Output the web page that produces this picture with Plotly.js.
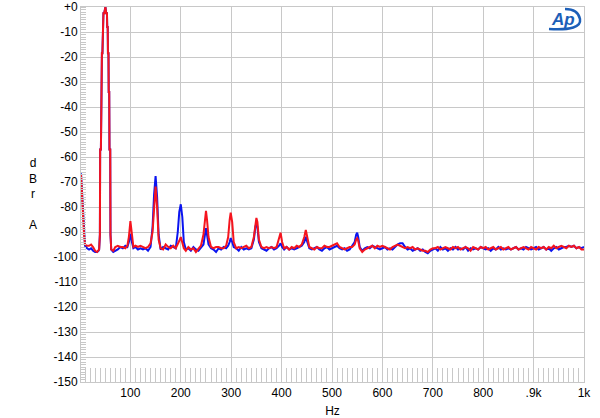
<!DOCTYPE html>
<html>
<head>
<meta charset="utf-8">
<script src="https://cdn.plot.ly/plotly-3.0.1.min.js"></script>
<style>html,body{margin:0;padding:0;background:#fff;}#chart{width:600px;height:418px;}</style>
</head>
<body>
<div id="chart"></div>
<script>
// Frequency (Hz)
const freq = [2,4,6,8,10,14,18,22,26,30,34,37,
  38,39.5,40,41.5,42,43,43.5,44.5,45,46,46.5,48,49.5,50.5,52,53.5,54,55,55.5,56.5,57,58,58.5,60,60.5,62,
  66,70,75,80,85,90,94,97,100,103,106,110,115,120,125,130,135,140,144,147,150,153,156,160,165,170,175,180,185,190,194,197,200,203,206,210,215,220,225,230,235,240,245,248,250,252,255,260,265,270,275,280,285,290,294,297,299,302,305,310,315,320,325,330,335,340,345,348,350,352,355,360,365,370,375,380,385,390,395,398,401,405,410,415,420,425,430,435,440,445,448,451,455,460,465,470,475,480,485,490,495,500,505,510,515,520,525,530,535,540,545,548,550,552,555,560,565,570,575,580,585,590,595,600,605,610,615,620,625,630,635,640,645,650,655,660,665,670,675,680,685,690,695,700,705,710,715,720,725,730,735,740,745,750,755,760,765,770,775,780,785,790,795,800,805,810,815,820,825,830,835,840,845,850,855,860,865,870,875,880,885,890,895,900,905,910,915,920,925,930,935,940,945,950,955,960,965,970,975,980,985,990,995,1000];
// Blue channel (dBr A)
const blue = [-66.5,-74,-84,-92,-95.5,-96.5,-97,-96.5,-97.5,-98,-98,-97.5,
  -97,-91,-57,-57,-34,-34,-18.5,-18.5,-8,-8,-2.5,-2.5,0,0,-2.5,-2.5,-8,-8,-18.5,-18.5,-34,-34,-57,-57,-91,-97,
  -98,-97.5,-97,-96,-96.5,-95.5,-96,-94,-90.8,-94,-96.5,-96,-97,-96.5,-97,-96.5,-97.5,-96,-88,-75,-67.6,-76,-91,-97,-96,-96.5,-97,-95.5,-96,-96.5,-90,-82,-78.9,-84,-94,-97,-96.5,-97.5,-96,-97,-97.5,-96,-95,-91,-88.5,-91,-95,-96.5,-97,-98,-96.5,-97,-96,-96.5,-95.5,-94,-92.4,-94,-96,-96.5,-97.5,-96,-97,-96.5,-97,-96.5,-93,-88,-86.4,-88,-94,-96.5,-97,-97.5,-96.5,-96,-97,-96.5,-95.5,-94.5,-96,-97,-96,-97,-96.5,-97,-96.5,-96,-95.5,-94,-91.9,-94,-96.5,-97,-96.5,-96,-97,-97.5,-96.5,-96,-97,-96.5,-96,-95.5,-96.5,-97,-96.5,-97.5,-97,-95.5,-94,-91,-90.3,-92,-96,-97.5,-96.5,-96,-96.5,-95.5,-96,-96.5,-97,-96.5,-96,-97,-96.5,-97,-96,-95,-94.5,-94.5,-96,-97,-96.5,-97.5,-97,-96.5,-97.5,-97,-98,-98.5,-97.5,-97,-96.5,-97.5,-96,-97,-96.5,-97.5,-96.5,-97,-96,-97,-96.5,-97,-96,-97.5,-96.5,-97,-96.5,-97,-96,-96.5,-97,-96.5,-97.5,-96.5,-97,-96,-97,-96.5,-97,-96.5,-97,-96.5,-96,-97,-96.5,-97,-96,-96.5,-97,-96.5,-96,-97,-96.5,-96,-97,-96.5,-97.5,-96.5,-96,-97,-96.5,-96,-96,-95.5,-96,-95.5,-96.5,-96,-96.5,-96];
// Red channel (dBr A)
const red = [-67,-76,-85,-91,-95,-95.5,-95.5,-95,-96,-97.5,-98,-97.5,
  -97,-91,-57,-57,-34,-34,-18.5,-18.5,-8,-8,-2.5,-2.5,0,0,-2.5,-2.5,-8,-8,-18.5,-18.5,-34,-34,-57,-57,-91,-97,
  -97.5,-96,-95.5,-96,-96,-96.5,-95.5,-92,-85.6,-92,-96,-95.5,-96,-95.5,-96,-96.5,-96,-94.5,-90,-78,-71.8,-80,-93,-96.5,-97,-95,-96,-96.5,-95.5,-96.5,-95,-93.5,-92,-94,-96.5,-97.5,-96,-97,-96.5,-98,-96.5,-95.5,-91,-85,-81.5,-85,-92,-96,-96.5,-96,-96,-96.5,-96.5,-95.5,-92,-85,-82.3,-86,-94,-96.5,-96,-96.5,-96,-95.5,-96.5,-96,-92,-86.5,-84.4,-86,-93,-96,-96.5,-96,-96.5,-96,-96.5,-96,-93,-90.3,-94,-96.5,-96,-97,-96,-96.5,-95.5,-96,-95,-92,-89.2,-92,-96,-96.5,-97,-96,-96.5,-96.5,-95.5,-96,-96,-95.5,-95,-94.5,-96,-96.5,-97,-96.5,-96,-96,-95,-93,-92.5,-93.5,-96.5,-98,-97,-96.5,-96,-95.5,-96.5,-95.5,-96,-95.5,-96,-96.5,-97,-96,-95.5,-95,-95.5,-96,-96.5,-96,-96.5,-96,-97,-96.5,-97,-97.5,-97.5,-98,-97,-96.5,-96.5,-96,-97,-96.5,-96,-96.5,-97,-96,-96.5,-96,-97,-96.5,-96,-96.5,-97.5,-96,-96.5,-97,-96,-96.5,-96,-97,-96.5,-96,-97,-96.5,-96,-97,-96.5,-96,-97,-96.5,-96,-97,-96.5,-96,-96.5,-97,-96,-96.5,-97,-96,-96.5,-96,-97,-96,-96.5,-95.5,-96.5,-96,-95.5,-96,-96.5,-95.5,-96,-95.5,-96.5,-96,-97,-97];

const yTickVals = [0,-10,-20,-30,-40,-50,-60,-70,-80,-90,-100,-110,-120,-130,-140,-150];
const yTickText = ['+0','-10','-20','-30','-40','-50','-60','-70','-80','-90','-100','-110','-120','-130','-140','-150'];
const xTickVals = [100,200,300,400,500,600,700,800,900,1000];
const xTickText = ['100','200','300','400','500','600','700','800','.9k','1k'];

const font = {family:'"Liberation Sans", Arial, sans-serif', size:12, color:'#000'};
const gridColor = '#c8c8c8';

const traces = [
  {x:freq, y:blue, type:'scatter', mode:'lines', line:{color:'#0a14f0', width:2}, hoverinfo:'skip', name:'Left'},
  {x:freq, y:red, type:'scatter', mode:'lines', line:{color:'#f5141e', width:2}, hoverinfo:'skip', name:'Right'}
];

function px(x){return (x-81)/503;}
function py(y){return 1-(y-7)/375;}

const layout = {
  width:600, height:418,
  margin:{l:81, r:16, t:7, b:36, pad:0},
  paper_bgcolor:'#fff', plot_bgcolor:'#fff',
  showlegend:false,
  font:font,
  xaxis:{
    range:[2,1000], tickvals:xTickVals, ticktext:xTickText, ticks:'', showgrid:true,
    gridcolor:gridColor, gridwidth:1, zeroline:false, showline:true, mirror:true, linecolor:gridColor, linewidth:1,
    tickfont:font, fixedrange:true,
    minor:{dtick:10, tick0:0, ticks:'inside', ticklen:14, tickcolor:'#c8c8c8', tickwidth:1, showgrid:false},
    title:{text:'Hz', font:font, standoff:8}
  },
  yaxis:{
    range:[-150,0], tickvals:yTickVals, ticktext:yTickText, ticks:'', showgrid:true,
    gridcolor:gridColor, gridwidth:1, zeroline:false, showline:true, mirror:true, linecolor:gridColor, linewidth:1,
    tickfont:font, fixedrange:true,
    minor:{dtick:1, tick0:0, ticks:'inside', ticklen:5, tickcolor:'#c8c8c8', tickwidth:1, showgrid:false}
  },
  annotations:[
    {xref:'paper', yref:'paper', x:-0.095, y:py(194), text:'d<br>B<br>r<br> <br>A', showarrow:false,
     font:{family:font.family, size:12, color:'#000'}, align:'center', xanchor:'center', yanchor:'middle'},
    {xref:'paper', yref:'paper', x:px(563), y:py(19), text:'<b><i>Ap</i></b>', showarrow:false,
     font:{family:'"Liberation Sans", Arial, sans-serif', size:17, color:'#1c5fb8'}, xanchor:'center', yanchor:'middle'}
  ],
  shapes:[
    {type:'path', xref:'paper', yref:'paper',
     path:'M '+px(549)+','+py(29)+' Q '+px(582)+','+py(31)+' '+px(580)+','+py(19)+' Q '+px(578)+','+py(9)+' '+px(565)+','+py(9),
     line:{color:'#1c5fb8', width:2.5}}
  ]
};

Plotly.newPlot('chart', traces, layout, {staticPlot:true, displayModeBar:false});
</script>
</body>
</html>
